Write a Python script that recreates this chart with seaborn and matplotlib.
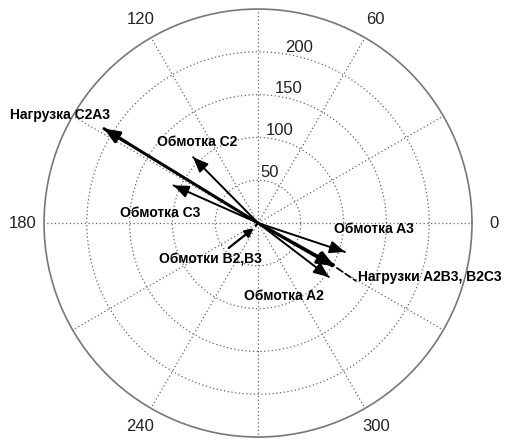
import matplotlib
matplotlib.use("Agg")
import matplotlib.pyplot as plt
import numpy as np
import pandas as pd
import seaborn as sns

sns.set_style("white")
plt.rcParams['font.family'] = ['Liberation Sans', 'DejaVu Sans']

# векторы (модуль, угол в градусах)
names = ['Нагрузка C2A3', 'Обмотка C2', 'Обмотка C3', 'Обмотка A3',
         'Нагрузка A2B3', 'Нагрузка B2C3', 'Обмотка A2', 'Обмотка B2', 'Обмотка B3']
magnitudes = [211, 108, 108, 107, 101, 100, 104, 4, 4]
angles_deg = [148.5, 134.6, 156.0, 341.6, 331.0, 330.0, 322.7, 230.0, 232.0]
widths = [2.2, 1.4, 1.4, 1.4, 2.0, 2.0, 1.4, 1.4, 1.4]

ring_values = [50, 100, 150, 200]
r_max = 250
theta_ticks = list(range(0, 360, 30))
theta_labels = [str(t) if t % 60 == 0 else '' for t in theta_ticks]

W, H = 506, 441
fig = plt.figure(figsize=(W / 100, H / 100), dpi=100)
ax = fig.add_axes([0.087, 0.009, 0.8458, 0.9705], projection='polar')

rows = []
for n, m, a in zip(names, magnitudes, angles_deg):
    rows.append({'name': n, 'theta': np.deg2rad(a), 'r': 0})
    rows.append({'name': n, 'theta': np.deg2rad(a), 'r': m})
df = pd.DataFrame(rows)

for n, lw in zip(names, widths):
    sns.lineplot(data=df[df['name'] == n], x='theta', y='r', sort=False,
                 estimator=None, color='black', lw=lw, ax=ax, legend=False)

# наконечники стрелок
for n, m, a, lw in zip(names, magnitudes, angles_deg, widths):
    if m < 10:
        continue
    t = np.deg2rad(a)
    ax.annotate('', xy=(t, m), xytext=(t, m * 0.85),
                arrowprops=dict(arrowstyle='-|>,head_length=0.6,head_width=0.25',
                                mutation_scale=15, color='black', lw=lw,
                                shrinkA=0, shrinkB=0))

ax.set_ylim(0, r_max)
ax.set_rgrids(ring_values, labels=['' for v in ring_values])
ax.set_thetagrids(theta_ticks, labels=theta_labels, fontsize=12, color='#222222')
ax.tick_params(axis='x', pad=5)
ax.grid(True, color='#666666', linestyle=(0, (1, 2)), lw=0.9)
ax.spines['polar'].set_color('#777777')
ax.spines['polar'].set_linewidth(1.2)
ax.set_xlabel('')
ax.set_ylabel('')

# подписи колец
for v in ring_values:
    ax.text(np.deg2rad(77), v + 11, str(v), ha='center', va='center',
            fontsize=12, color='#222222')


def px(x, y):
    return x / W, 1 - y / H


lab = dict(fontsize=10, fontweight='bold', color='black', va='center')
fig.text(*px(10, 115), 'Нагрузка C2A3', ha='left', **lab)
fig.text(*px(197, 142), 'Обмотка C2', ha='center', **lab)
fig.text(*px(160, 213), 'Обмотка C3', ha='center', **lab)
fig.text(*px(374, 229), 'Обмотка A3', ha='center', **lab)
fig.text(*px(358, 277), 'Нагрузки A2B3, B2C3', ha='left', **lab)
fig.text(*px(284, 296), 'Обмотка A2', ha='center', **lab)

# выноски
b2_tip = (np.deg2rad(angles_deg[7]), magnitudes[7] * 2)
ax.annotate('Обмотки B2,B3', xy=b2_tip, xycoords='data',
            xytext=px(210, 260), textcoords='figure fraction',
            ha='center', va='center', fontsize=10, fontweight='bold', color='black',
            arrowprops=dict(arrowstyle='-|>,head_length=0.5,head_width=0.25',
                            mutation_scale=10, color='black', lw=1.6,
                            shrinkA=2, shrinkB=0,
                            relpos=(0.62, 1.0)))
ax.annotate('', xy=px(356, 281), xycoords='figure fraction',
            xytext=px(337, 268), textcoords='figure fraction',
            arrowprops=dict(arrowstyle='-', color='black', lw=1.2,
                            linestyle=(0, (4, 2)), shrinkA=0, shrinkB=0))

fig.savefig('out.png', dpi=100)
